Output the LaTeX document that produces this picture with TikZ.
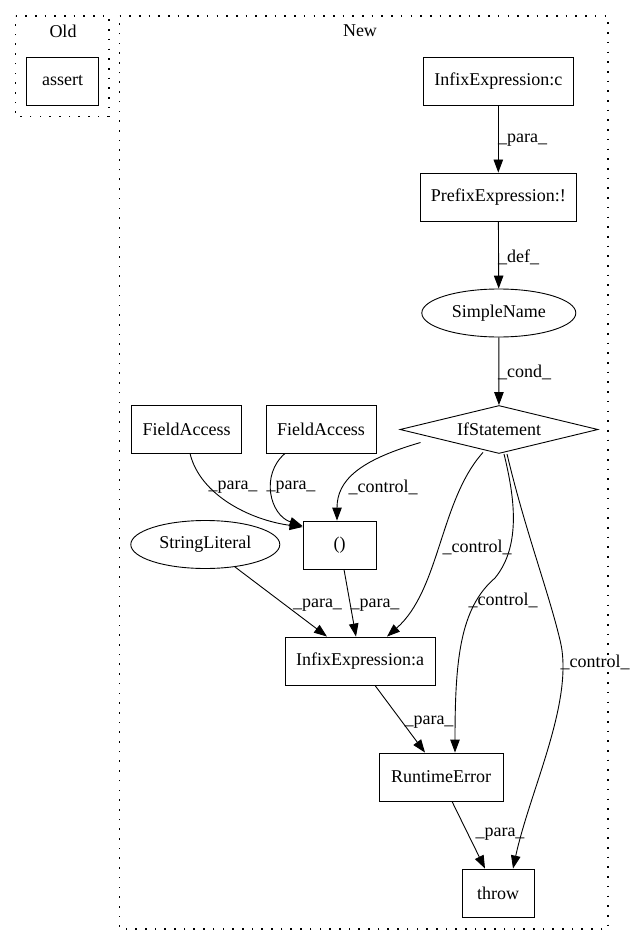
\documentclass[tikz,border=0pt]{standalone}
\usepackage{fontspec}
\setmainfont{Liberation Serif}
\usetikzlibrary{arrows.meta,shapes.geometric}
\begin{document}
\begin{tikzpicture}[x=1pt,y=-1pt,
  every node/.style={font=\fontsize{18}{20}\selectfont},
  box/.style={draw,line width=0.9pt,rectangle,inner sep=0pt,minimum height=48pt},
  ell/.style={draw,line width=0.9pt,ellipse,inner sep=0pt,minimum height=48pt},
  clus/.style={draw,line width=1.6pt,dash pattern=on 1.6pt off 8.1pt},
  edge/.style={draw,line width=0.9pt,-{Triangle[length=13pt,width=9.5pt]}},
  lbl/.style={inner sep=0pt}]
\useasboundingbox (0,0) rectangle (635,944);
\draw[clus] (15.5,16) -- (109,16) -- (109,116.5) -- (15.5,116.5) -- cycle;
\draw[clus] (119.5,16) -- (607.7,16) -- (607.7,929) -- (119.5,929) -- cycle;
\node[lbl] (old) at (63,31) {Old};
\node[lbl] (new) at (360,31) {New};
\node[box,minimum width=72pt] (assert) at (62.7,81) {assert};
\node[box,minimum width=150pt] (infc) at (498.3,81) {InfixExpression:c};
\node[box,minimum width=156pt] (pre) at (498.3,197) {PrefixExpression:!};
\node[ell,minimum width=154pt] (sn) at (498.8,313) {SimpleName};
\node[draw,line width=0.9pt,diamond,aspect=4.1,inner sep=0pt,minimum width=198pt,minimum height=48pt] (if) at (499,429.5) {IfStatement};
\node[box,minimum width=110pt] (fa1) at (186.7,429) {FieldAccess};
\node[box,minimum width=110pt] (fa2) at (321,429) {FieldAccess};
\node[box,minimum width=73pt] (par) at (339.5,545) {()};
\node[ell,minimum width=149pt] (sl) at (205.3,544.5) {StringLiteral};
\node[box,minimum width=150pt] (infa) at (360,661) {InfixExpression:a};
\node[box,minimum width=124pt] (re) at (441,777) {RuntimeError};
\node[box,minimum width=72pt] (thr) at (498,893) {throw};
\coordinate (c1) at (495,578);
\coordinate (c2) at (560,640);
% edges
\draw[edge] (infc) -- (pre);
\node[lbl,anchor=west] at (498,140) {\_para\_};
\draw[edge] (pre) -- (sn);
\node[lbl,anchor=west] at (498,257) {\_def\_};
\draw[edge] (sn) -- (if);
\node[lbl,anchor=west] at (498,372) {\_cond\_};
\draw[edge] (fa1.south -| 190,0) .. controls (200,495) and (250,520) .. (par.west |- 0,527);
\node[lbl] at (233,487) {\_para\_};
\draw[edge] (fa2.south -| 285,0) .. controls (260,475) and (270,515) .. (par.west |- 0,526);
\node[lbl] at (291,487) {\_para\_};
\draw[edge] (if.west) ++(21,13) .. controls (360,460) and (337,480) .. (par.north -| 337,0);
\node[lbl] at (383,487) {\_control\_};
\draw[edge] (if.south) ++(-16,-1.5) .. controls (440,500) and (440,590) .. (infa.north -| 387,0);
\node[lbl] at (477,547) {\_control\_};
\draw[edge] (sl) -- (infa.north -| 327,0);
\node[lbl] at (317.5,605) {\_para\_};
\draw[edge] (par.south -| 344,0) -- (infa.north -| 356,0);
\node[lbl] at (375,605) {\_para\_};
\draw[edge] (if.south) ++(5,0) .. controls (514,495) and (522,545) .. (c1) .. controls (460,608) and (455,660) .. (re.north -| 455,0);
\node[lbl] at (503,600) {\_control\_};
\draw[edge] (if.south) ++(8,0) .. controls (525,530) and (548,590) .. (c2) .. controls (575,700) and (530,790) .. (thr.north -| 513,0);
\node[lbl] at (595,662) {\_control\_};
\draw[edge] (infa.south -| 375,0) -- (re.north -| 425,0);
\node[lbl] at (429,722) {\_para\_};
\draw[edge] (re.south -| 452,0) -- (thr.north -| 485,0);
\node[lbl] at (500,834) {\_para\_};
\end{tikzpicture}
\end{document}
